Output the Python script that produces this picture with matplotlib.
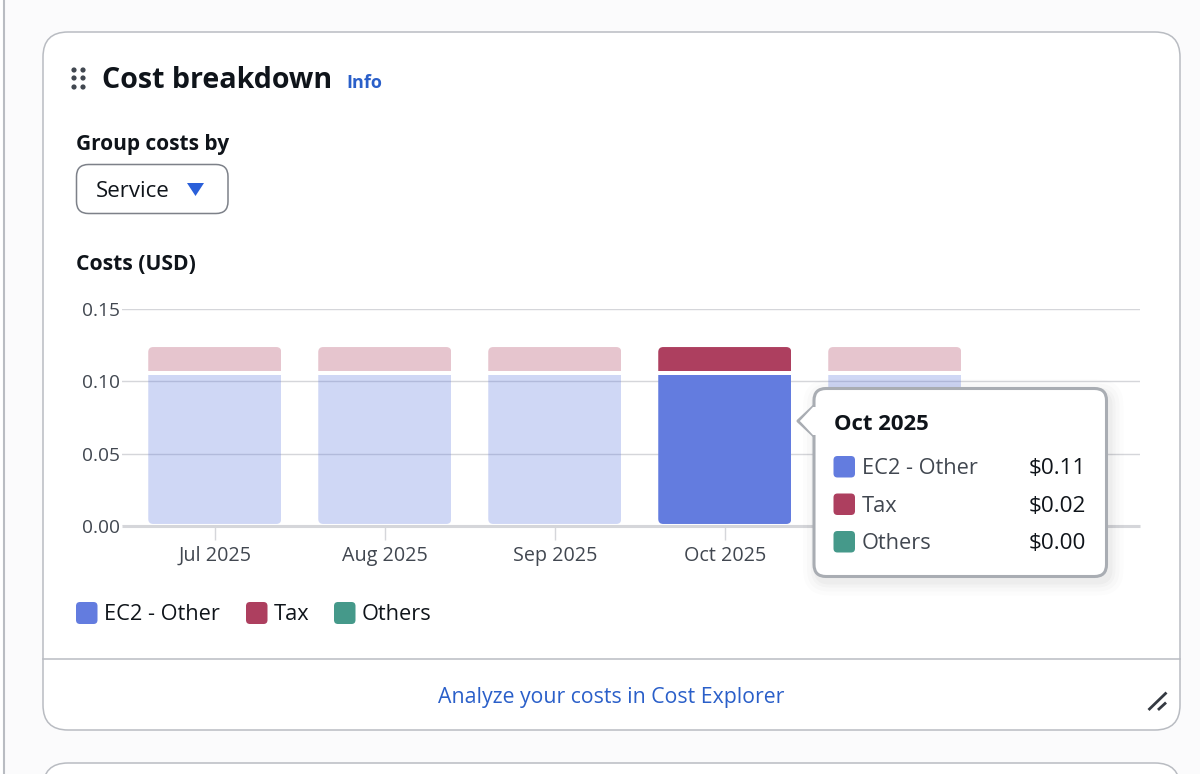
#!/usr/bin/env python3
"""Cost breakdown card: stacked monthly costs with the Oct 2025 tooltip open."""

import matplotlib
matplotlib.use('Agg')
import matplotlib.pyplot as plt
from matplotlib.patches import Circle, FancyBboxPatch, Polygon

plt.rcParams['font.family'] = ['Open Sans', 'DejaVu Sans']

# data
months = ['Jul 2025', 'Aug 2025', 'Sep 2025', 'Oct 2025', 'Nov 2025']
ec2_values = [0.1045, 0.1045, 0.1045, 0.1045, 0.1045]
tax_values = [0.0167, 0.0167, 0.0167, 0.0167, 0.0167]
y_ticks = [0.00, 0.05, 0.10, 0.15]
series_names = ['EC2 - Other', 'Tax', 'Others']
tooltip_month = 'Oct 2025'
tooltip_values = ['$0.11', '$0.02', '$0.00']

BLUE = '#637cdf'
RED = '#ad3f5f'
TEAL = '#45998a'
SERIES_COLORS = [BLUE, RED, TEAL]
LINK = '#2a5fc9'
DARK = '#0f141a'
GREY_TEXT = '#414750'
GRID = '#d5d6da'
BORDER = '#b9bcc2'
PAGE = '#fbfbfc'

W, H = 1200, 774
DIM_ALPHA = 0.3
ACTIVE = months.index(tooltip_month)
BAR_LIFT = 0.0014  # small gap above the baseline
BAR_GAP = 0.0025   # white gap between the stacked segments


def px_axes(fig, zorder):
    """全图坐标轴, 单位为像素 (y 向下)。"""
    ax = fig.add_axes([0, 0, 1, 1], zorder=zorder)
    ax.set_xlim(0, W)
    ax.set_ylim(H, 0)
    ax.axis('off')
    return ax


def round_box(ax, x0, y0, x1, y1, radius, **kw):
    box = FancyBboxPatch((x0, y0), x1 - x0, y1 - y0,
                         boxstyle=f'round,pad=0,rounding_size={radius}', **kw)
    ax.add_patch(box)
    return box


def draw_page(ax):
    ax.fill_between([4, W], 0, H, color=PAGE, lw=0)
    ax.plot([4, 4], [0, H], color=BORDER, lw=1.5)
    round_box(ax, 43, 763, 1180, 860, 25, fc='white', ec=BORDER, lw=1.1)
    round_box(ax, 43, 32, 1180, 730, 25, fc='white', ec=BORDER, lw=1.1)
    ax.plot([43, 1180], [659, 659], color=BORDER, lw=1.1)

    # header
    for x in (74, 83):
        for y in (70, 78, 87):
            ax.add_patch(Circle((x, y), 2.6, color='#414750', lw=0))
    ax.text(102, 88, 'Cost breakdown', fontsize=20.6, fontweight='bold', color=DARK, va='baseline')
    ax.text(346, 88, 'Info', fontsize=13, fontweight='bold', color=LINK, va='baseline')

    # dropdown
    ax.text(76, 150, 'Group costs by', fontsize=15, fontweight='bold', color=DARK, va='baseline')
    round_box(ax, 76.5, 164.5, 228, 213.5, 12, fc='white', ec='#7d8189', lw=1.1)
    ax.text(96, 197, 'Service', fontsize=16, color=DARK, va='baseline')
    ax.add_patch(Polygon([(187, 183), (204, 183), (195.5, 196)], closed=True, fc='#2a5fd9', ec='none'))
    ax.text(76, 270, 'Costs (USD)', fontsize=15.2, fontweight='bold', color=DARK, va='baseline')

    # legend
    for x, tx, name, color in zip((76, 246, 334), (104, 274, 362), series_names, SERIES_COLORS):
        round_box(ax, x, 602, x + 21.5, 624, 4, fc=color, ec='none')
        ax.text(tx, 620, name, fontsize=15.7, color=DARK, va='baseline')

    # footer
    ax.text(611, 703, 'Analyze your costs in Cost Explorer', fontsize=15.3, color=LINK,
            ha='center', va='baseline')
    ax.plot([1149.5, 1165.5], [709, 693.5], color='#353a42', lw=2)
    ax.plot([1159, 1165], [709, 703.5], color='#353a42', lw=2)


def draw_chart(fig):
    # 轴范围按像素对齐: y=0 在 526px, y=0.15 在 309px, 每月 170px
    x_left, x_right, y_bottom, y_top = 122, 1140, 526, 309
    x_first = 214.75
    ax = fig.add_axes([x_left / W, 1 - y_bottom / H, (x_right - x_left) / W, (y_bottom - y_top) / H],
                      zorder=1)
    ax.patch.set_alpha(0)
    ax.set_xlim((x_left - x_first) / 170, (x_right - x_first) / 170)
    ax.set_ylim(0, 0.15)
    for side in ('top', 'right', 'left'):
        ax.spines[side].set_visible(False)
    ax.spines['bottom'].set_color(GRID)
    ax.spines['bottom'].set_linewidth(2.2)
    ax.spines['bottom'].set_capstyle('butt')
    ax.grid(True, axis='y', color=GRID, lw=1)
    ax.set_axisbelow(True)

    positions = list(range(len(months)))
    ax.set_xticks(positions, months)
    ax.set_yticks(y_ticks, [f'{v:.2f}' for v in y_ticks])
    ax.tick_params(axis='x', length=10, width=1, color=GRID, labelsize=14.2,
                   labelcolor=GREY_TEXT, pad=4.5)
    ax.tick_params(axis='y', length=0, labelsize=13.8, labelcolor=GREY_TEXT, pad=1.5)
    # 这个标签在参考图里被提示框完全挡住
    ax.get_xticklabels()[months.index('Nov 2025')].set_visible(False)

    width = 133 / 170
    radius = 5 / 170
    aspect = (0.15 / 217) * 170
    ec2_bottoms = [BAR_LIFT] * len(months)
    ec2_heights = [v - BAR_LIFT for v in ec2_values]
    tax_bottoms = [v + BAR_GAP for v in ec2_values]
    ec2_bars = ax.bar(positions, ec2_heights, width, bottom=ec2_bottoms, color=BLUE, lw=0)
    tax_bars = ax.bar(positions, tax_values, width, bottom=tax_bottoms, color=RED, lw=0)

    # 只圆角外侧: 裁剪框向内侧多伸一段
    for i in positions:
        for bar, extend_up in ((ec2_bars[i], True), (tax_bars[i], False)):
            bar.set_alpha(1 if i == ACTIVE else DIM_ALPHA)
            y0, h = bar.get_y(), bar.get_height()
            clip = FancyBboxPatch((bar.get_x(), y0 if extend_up else y0 - 0.02), bar.get_width(), h + 0.02,
                                  boxstyle=f'round,pad=0,rounding_size={radius}',
                                  mutation_aspect=aspect, transform=ax.transData)
            bar.set_clip_path(clip)
    return ax


def draw_tooltip(ax):
    x0, y0, x1, y1 = 814, 388.5, 1106.5, 576.5
    # soft shadow
    for grow, alpha in ((14, 0.012), (10, 0.016), (6, 0.02), (3, 0.025)):
        round_box(ax, x0 - grow + 3, y0 - grow + 5, x1 + grow + 3, y1 + grow + 5, 12 + grow,
                  fc='black', ec='none', alpha=alpha)
    round_box(ax, x0, y0, x1, y1, 12, fc='white', ec='#a9adb3', lw=2.2)
    # pointer
    ax.add_patch(Polygon([(x0, 406), (798, 421), (x0, 436)], closed=False, fc='white', ec='#a9adb3',
                         lw=2.2, joinstyle='round', capstyle='butt'))
    ax.add_patch(Polygon([(x0 - 1, 407), (800, 421), (x0 - 1, 435), (x0 + 2, 435), (x0 + 2, 407)],
                         closed=True, fc='white', ec='none'))

    ax.text(834, 430, tooltip_month, fontsize=15.9, fontweight='bold', color=DARK, va='baseline')
    for y, name, value, color in zip((456, 493.5, 531), series_names, tooltip_values, SERIES_COLORS):
        round_box(ax, 833.5, y, 855, y + 21.5, 4, fc=color, ec='none')
        ax.text(862, y + 18, name, fontsize=15.7, color=GREY_TEXT, va='baseline')
        ax.text(1086, y + 18, value, fontsize=16.2, color=DARK, ha='right', va='baseline')


def main():
    fig = plt.figure(figsize=(W / 100, H / 100), dpi=100, facecolor='white')
    draw_page(px_axes(fig, 0))
    draw_chart(fig)
    draw_tooltip(px_axes(fig, 2))
    fig.savefig('out.png', dpi=100)


if __name__ == '__main__':
    main()
